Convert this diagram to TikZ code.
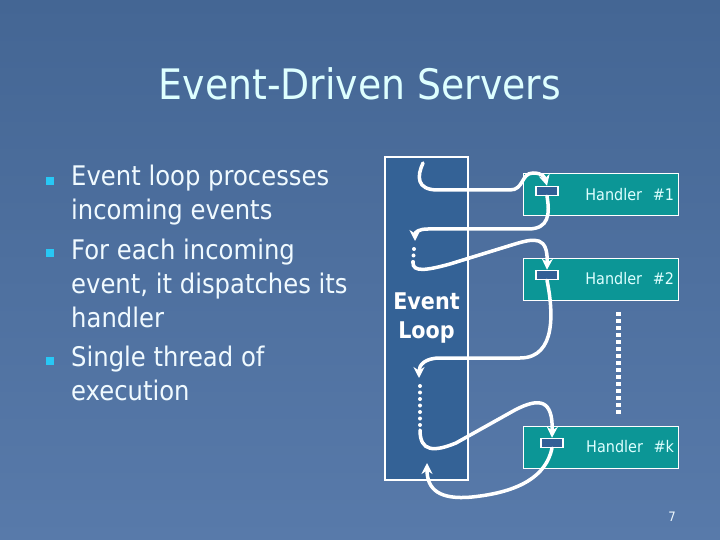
\documentclass[tikz,border=0pt]{standalone}
\usepackage{fontspec}
\setmainfont{DejaVu Sans}[FakeStretch=0.9]
\usetikzlibrary{arrows.meta}

\definecolor{slidetop}{RGB}{68,102,148}
\definecolor{slidebot}{RGB}{88,122,170}
\definecolor{loopblue}{RGB}{52,98,150}
\definecolor{handlerteal}{RGB}{12,150,150}
\definecolor{titlecyan}{RGB}{222,255,255}
\definecolor{bodywhite}{RGB}{240,250,255}
\definecolor{bulletcyan}{RGB}{40,200,245}
\definecolor{tabblue}{RGB}{50,95,150}

\tikzset{
  handler/.style={draw=white, line width=1pt, fill=handlerteal,
    minimum width=155pt, minimum height=42pt, text width=147pt,
    inner xsep=4pt, align=right, text=titlecyan,
    font=\fontsize{16}{16}\selectfont},
  tab/.style={draw=white, line width=1.5pt, fill=tabblue,
    minimum width=22pt, minimum height=9pt, inner sep=0pt},
  flow/.style={white, line width=3.5pt, line cap=round,
    -{Stealth[length=11pt,width=11pt]}},
  waitdots/.style={white, line width=4pt, line cap=round,
    dash pattern=on 0pt off 6.5pt},
  bulletsq/.style={fill=bulletcyan, minimum size=8pt, inner sep=0pt},
  item/.style={anchor=base west, inner sep=0pt, align=left, text=bodywhite,
    font=\fontsize{27}{34}\selectfont}
}

\begin{document}
\begin{tikzpicture}[x=1pt, y=-1pt]
   \useasboundingbox (0,0) rectangle (720,540);
   \shade[top color=slidetop, bottom color=slidebot] (0,0) rectangle (720,540);

   % title and bullets (item nodes sit on their last baseline)
   \node[anchor=base, inner sep=0pt, text=titlecyan,
      font=\fontsize{42}{42}\selectfont] (title) at (360,100) {Event-Driven Servers};
   \foreach \y [count=\i] in {181,253,361}
      \node[bulletsq] (b\i) at (50,\y) {};
   \node[item] (i1) at (71,220) {Event loop processes\\incoming events};
   \node[item] (i2) at (71,327) {For each incoming\\event, it dispatches its\\handler};
   \node[item] (i3) at (71,400) {Single thread of\\execution};

   % event loop and handlers
   \node[draw=white, line width=2pt, fill=loopblue, minimum width=83pt,
      minimum height=323pt, align=center, text=white,
      font=\bfseries\fontsize{23}{29}\selectfont] (loop) at (426.5,318.5) {Event\\Loop};
   \node[handler] (h1) at (600.5,195) {Handler\ \ \#1};
   \node[handler] (h2) at (600.5,279) {Handler\ \ \#2};
   \node[handler] (hk) at (600.5,447) {Handler\ \ \#k};
   \node[tab] (t1) at (547,191) {};
   \node[tab] (t2) at (547,275) {};
   \node[tab] (tk) at (552,443) {};

   \coordinate (gaptop) at (618,312);
   \coordinate (gapbot) at (618,415);
   \draw[white, line width=5pt, dash pattern=on 4pt off 3pt] (gaptop) -- (gapbot);

   % control flow
   \coordinate (start) at (423,163);
   \coordinate (w1) at (415,241);
   \coordinate (d1a) at (414,249);
   \coordinate (d1b) at (413,262);
   \coordinate (w2) at (419,378);
   \coordinate (d2a) at (420,386);
   \coordinate (d2b) at (420,430);
   \coordinate (back) at (427,463);

   \draw[flow] (start) .. controls (417,176) and (416,190) .. (438,190) -- (510,190)
      .. controls (524,190) and (521,173) .. (533,173)
      .. controls (543,173) and (545,178) .. (t1.north);
   \draw[flow] (t1.south) .. controls (550,214) and (549,229) .. (528,229) -- (428,229)
      .. controls (419,229) and (415,232) .. (w1);
   \draw[waitdots] (d1a) -- (d1b);
   \draw[flow] (d1b) .. controls (412,273) and (428,270) .. (450,264) -- (515,244)
      .. controls (535,238) and (548,236) .. (t2.north);
   \draw[flow] (t2.south) .. controls (553,310) and (557,358) .. (520,358) -- (440,358)
      .. controls (425,358) and (419,365) .. (w2);
   \draw[waitdots] (d2a) -- (d2b);
   \draw[flow] (d2b) .. controls (420,452) and (434,452) .. (456,443) -- (515,410)
      .. controls (540,397) and (553,400) .. (tk.north);
   \draw[flow] (tk.south) .. controls (546,476) and (520,492) .. (472,497)
      .. controls (440,500) and (427,490) .. (back);

   \node[text=bodywhite, font=\fontsize{13}{13}\selectfont] (page) at (672,517) {7};
\end{tikzpicture}
\end{document}
